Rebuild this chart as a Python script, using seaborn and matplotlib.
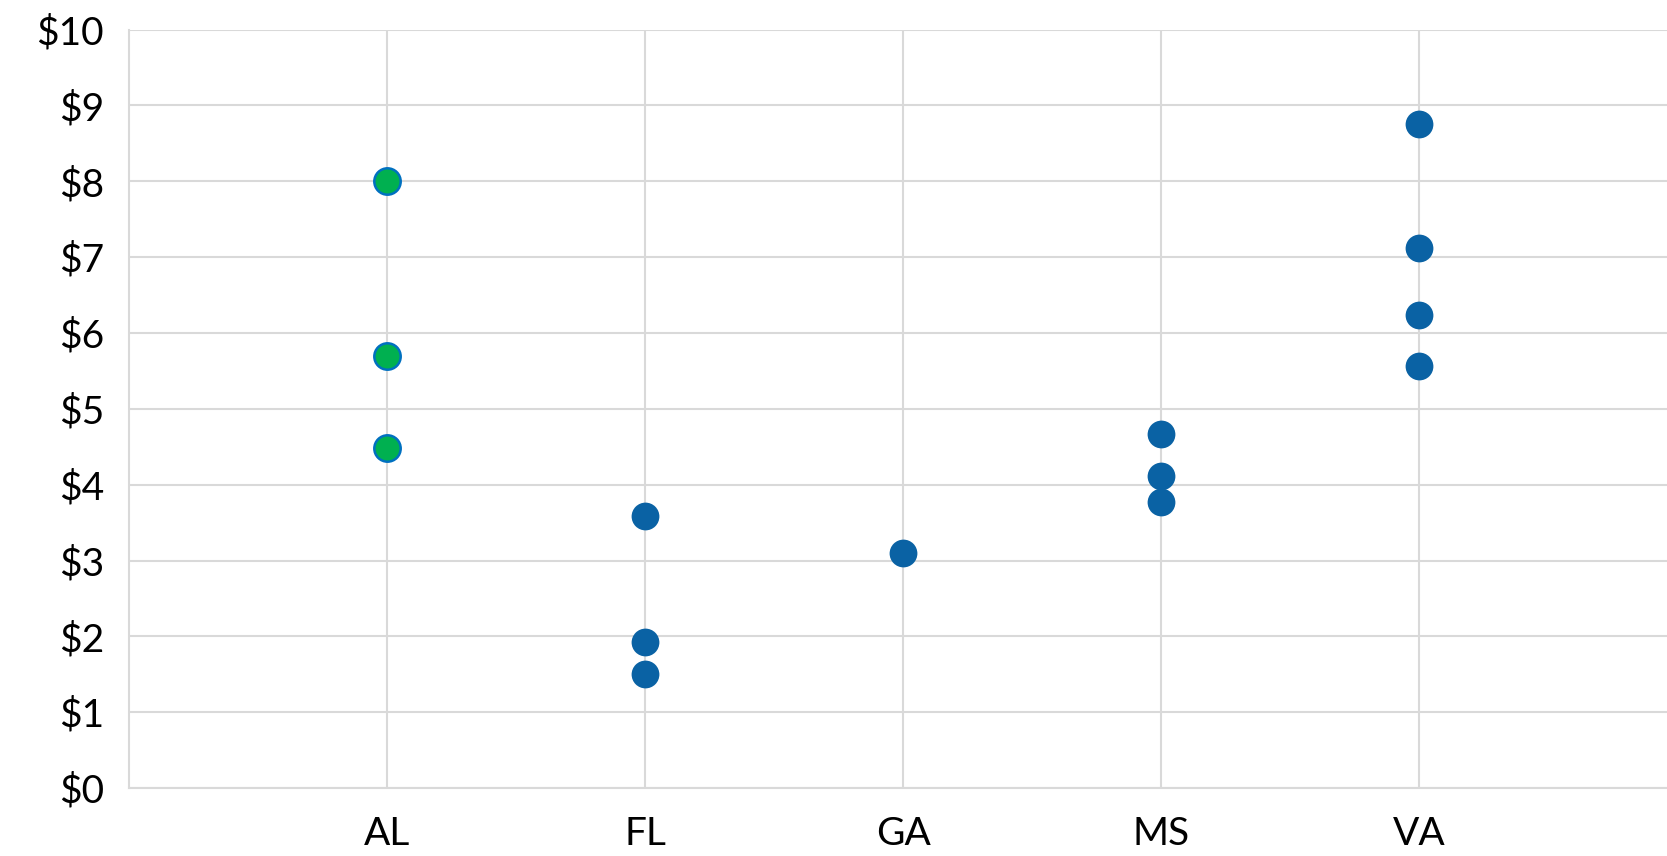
import matplotlib
matplotlib.use("Agg")
import matplotlib.pyplot as plt
import seaborn as sns
import pandas as pd

# -----------------------------
# Data
# -----------------------------
states = ["AL", "FL", "GA", "MS", "VA"]
al_values = [8.01, 5.69, 4.49]
fl_values = [3.59, 1.92, 1.51]
ga_values = [3.10]
ms_values = [4.67, 4.11, 3.77]
va_values = [8.75, 7.12, 6.24, 5.57]
y_ticks = list(range(0, 11))

green = "#00B050"
edge_blue = "#0070C0"
blue = "#0A62A4"
grid_grey = "#D9D9D9"

rows = []
for st, vals in zip(states, [al_values, fl_values, ga_values, ms_values, va_values]):
    for v in vals:
        rows.append({"State": st, "Price": v})
df = pd.DataFrame(rows)

sns.set_theme(style="white")
plt.rcParams["font.family"] = ["Lato", "DejaVu Sans"]

fig = plt.figure(figsize=(16.67, 8.56), dpi=100)
ax = fig.add_axes([0.0774, 0.0794, 0.9226, 0.886])

sns.stripplot(data=df[df["State"] == "AL"], x="State", y="Price", order=states,
              jitter=False, color=green, edgecolor=edge_blue, linewidth=1.8,
              size=19, ax=ax, zorder=3)
sns.stripplot(data=df[df["State"] != "AL"], x="State", y="Price", order=states,
              jitter=False, color=blue, edgecolor=blue, linewidth=0,
              size=20, ax=ax, zorder=3)

# categorical axis switches the grid off, so put it back on both axes
ax.set_axisbelow(True)
ax.xaxis.grid(True, color=grid_grey, linewidth=1.5)
ax.yaxis.grid(True, color=grid_grey, linewidth=1.5)

ax.set_xlim(-1, 4.96)
ax.set_ylim(0, 10)
ax.set_yticks(y_ticks)
ax.set_yticklabels([f"${t}" for t in y_ticks])
ax.set_xlabel("")
ax.set_ylabel("")
ax.tick_params(axis="both", length=0, labelsize=28, colors="black")
ax.tick_params(axis="x", pad=20)
ax.tick_params(axis="y", pad=18)

for side in ["top", "right"]:
    ax.spines[side].set_visible(False)
for side in ["left", "bottom"]:
    ax.spines[side].set_color(grid_grey)
    ax.spines[side].set_linewidth(1.5)

fig.savefig("out.png", dpi=100)
